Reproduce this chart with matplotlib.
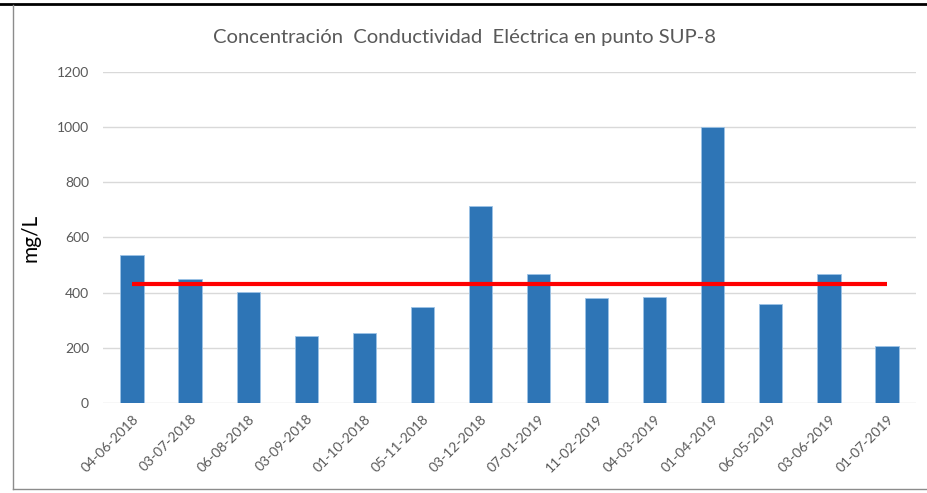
import matplotlib
matplotlib.use("Agg")
import matplotlib.pyplot as plt
from matplotlib.lines import Line2D

fechas = ["04-06-2018", "03-07-2018", "06-08-2018", "03-09-2018", "01-10-2018",
          "05-11-2018", "03-12-2018", "07-01-2019", "11-02-2019", "04-03-2019",
          "01-04-2019", "06-05-2019", "03-06-2019", "01-07-2019"]
conductividad = [535, 448, 404, 242, 254, 347, 714, 468, 380, 385, 1000, 359, 468, 207]
limite = [430] * len(fechas)
yticks = [0, 200, 400, 600, 800, 1000, 1200]

plt.rcParams['font.family'] = ['Lato', 'DejaVu Sans']

fig = plt.figure(figsize=(9.28, 4.93), dpi=100)
ax = fig.add_axes([103/928, 1-403/493, (916-103)/928, (403-72)/493])

x = list(range(len(fechas)))
ax.bar(x, conductividad, width=0.4, color="#2E75B6", edgecolor="#9DC3E6", linewidth=0.6, zorder=2)
ax.plot(x, limite, color="#FF0000", linewidth=3, zorder=3, solid_capstyle='butt')

ax.set_xlim(-0.5, len(fechas)-0.5)
ax.set_ylim(0, 1200)
ax.set_yticks(yticks)
ax.set_yticklabels([str(v) for v in yticks], color="#595959", fontsize=10)
ax.set_xticks(x)
ax.set_xticklabels(fechas, rotation=45, ha="right", rotation_mode="anchor",
                   color="#595959", fontsize=10)
ax.tick_params(axis="both", length=0, pad=10)
ax.tick_params(axis="x", pad=7)
ax.grid(axis="y", color="#D9D9D9", linewidth=1, zorder=0)
for s in ax.spines.values():
    s.set_visible(False)
ax.set_ylabel("mg/L", fontsize=15, color="black", labelpad=12)

fig.text(0.5 + 1/928, 1-37/493, "Concentración  Conductividad  Eléctrica en punto SUP-8",
         ha="center", va="center", fontsize=14.6, color="#595959")

# outer frame
fig.add_artist(Line2D([0, 1], [1-4/493, 1-4/493], color="black", linewidth=2, transform=fig.transFigure))
fig.add_artist(Line2D([13/928, 13/928], [1-5/493, 1-489/493], color="#8C8C8C", linewidth=1, transform=fig.transFigure))
fig.add_artist(Line2D([13/928, 1], [1-489/493, 1-489/493], color="#8C8C8C", linewidth=1, transform=fig.transFigure))

fig.savefig("out.png", dpi=100)
